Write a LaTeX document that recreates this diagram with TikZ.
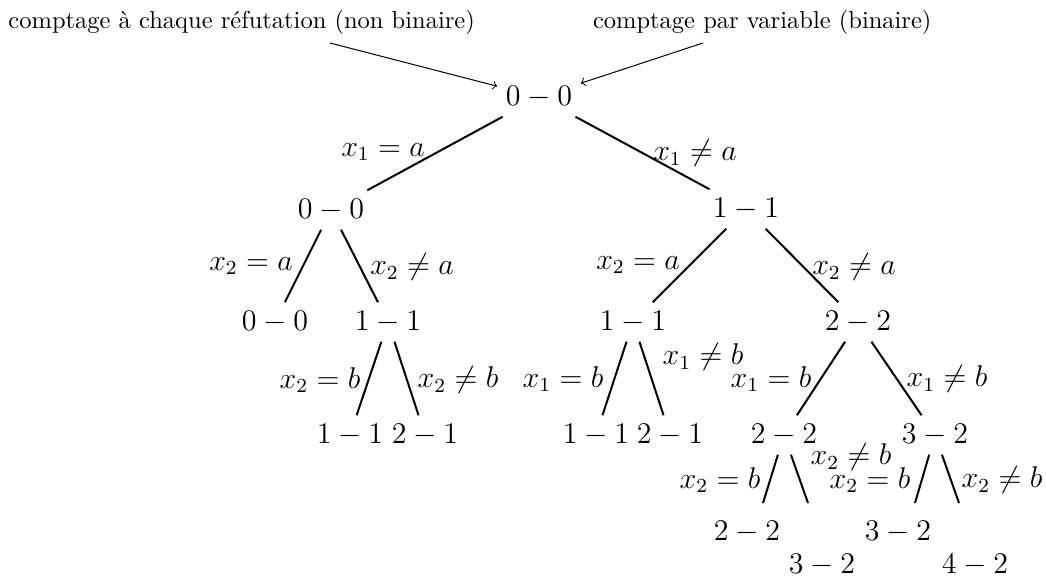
\documentclass[tikz,border=0pt]{standalone}
\usepackage{tikz}
\begin{document}
\begin{tikzpicture}[x=0.4pt,y=-0.4pt,
  tn/.style={font=\fontsize{12}{14}\selectfont},
  lab/.style={font=\fontsize{12}{14}\selectfont,inner sep=0pt},
  note/.style={font=\fontsize{9.8}{12}\selectfont,inner sep=0pt},
  edge/.style={line width=0.8pt},
  pointer/.style={->,line width=0.4pt}]
\useasboundingbox (0,0) rectangle (1046,580);
% annotations
\node[note,anchor=base west] (t1) at (8,28) {comptage à chaque réfutation (non binaire)};
\node[note,anchor=base east] (t2) at (932,28) {comptage par variable (binaire)};
\coordinate (s1) at (330,43);
\coordinate (s2) at (703,43);
% tree nodes
\node[tn] (r) at (539,97) {$0-0$};
\node[tn] (a) at (331,210) {$0-0$};
\node[tn] (b) at (746,209) {$1-1$};
\node[tn] (aa) at (275,322) {$0-0$};
\node[tn] (ab) at (388,322) {$1-1$};
\node[tn] (aba) at (350,435) {$1-1$};
\node[tn] (abb) at (425,435) {$2-1$};
\node[tn] (ba) at (633,322) {$1-1$};
\node[tn] (bb) at (858,322) {$2-2$};
\node[tn] (baa) at (596,435) {$1-1$};
\node[tn] (bab) at (670,435) {$2-1$};
\node[tn] (bba) at (784,435) {$2-2$};
\node[tn] (bbb) at (935,435) {$3-2$};
\node[tn] (bbaa) at (747,532) {$2-2$};
\node[tn] (bbab) at (822,565) {$3-2$};
\node[tn] (bbba) at (898,532) {$3-2$};
\node[tn] (bbbb) at (975,565) {$4-2$};
\coordinate (e1) at (763,503);
\coordinate (e2) at (808,503);
\coordinate (e3) at (915,503);
\coordinate (e4) at (959,503);
% pointers
\draw[pointer] (s1) -- (r);
\draw[pointer] (s2) -- (r);
% edges
\draw[edge] (r) -- (a);
\draw[edge] (r) -- (b);
\draw[edge] (a) -- (aa);
\draw[edge] (a) -- (ab);
\draw[edge] (ab) -- (aba);
\draw[edge] (ab) -- (abb);
\draw[edge] (b) -- (ba);
\draw[edge] (b) -- (bb);
\draw[edge] (ba) -- (baa);
\draw[edge] (ba) -- (bab);
\draw[edge] (bb) -- (bba);
\draw[edge] (bb) -- (bbb);
\draw[edge] (bba) -- (e1);
\draw[edge] (bba) -- (e2);
\draw[edge] (bbb) -- (e3);
\draw[edge] (bbb) -- (e4);
% edge labels
\node[lab] (l1) at (383,152) {$x_1=a$};
\node[lab] (l2) at (695,153) {$x_1\neq a$};
\node[lab] (l3) at (251,266) {$x_2=a$};
\node[lab] (l4) at (412,267) {$x_2\neq a$};
\node[lab] (l5) at (320,380) {$x_2=b$};
\node[lab] (l6) at (458,380) {$x_2\neq b$};
\node[lab] (l7) at (638,265) {$x_2=a$};
\node[lab] (l8) at (854,267) {$x_2\neq a$};
\node[lab] (l9) at (563,379) {$x_1=b$};
\node[lab] (l10) at (703,357) {$x_1\neq b$};
\node[lab] (l11) at (771,379) {$x_1=b$};
\node[lab] (l12) at (947,379) {$x_1\neq b$};
\node[lab] (l13) at (720,480) {$x_2=b$};
\node[lab] (l14) at (851,457) {$x_2\neq b$};
\node[lab] (l15) at (870,480) {$x_2=b$};
\node[lab] (l16) at (1002,480) {$x_2\neq b$};
\end{tikzpicture}
\end{document}
